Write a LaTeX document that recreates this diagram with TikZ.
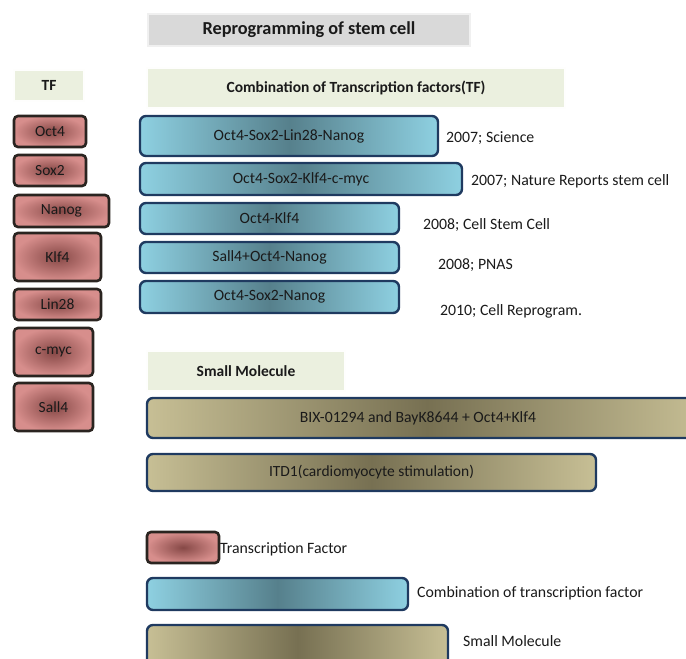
\documentclass[tikz,border=0pt]{standalone}
\usepackage{fontspec}
\setmainfont{Carlito}
\definecolor{txt}{HTML}{1A1A1A}
\definecolor{hdrgray}{HTML}{D9D9D9}
\definecolor{hdrgreen}{HTML}{EBF0DF}
\definecolor{redout}{HTML}{D78E8C}
\definecolor{redin}{HTML}{864846}
\definecolor{redline}{HTML}{2A2420}
\definecolor{blueout}{HTML}{8ED0E1}
\definecolor{bluein}{HTML}{56808C}
\definecolor{tanout}{HTML}{C7BF95}
\definecolor{tanin}{HTML}{777052}
\definecolor{navy}{HTML}{1F3A60}
\tikzset{
  hdr/.style={fill=hdrgreen, draw=white!95!hdrgreen, line width=1.5pt, inner sep=0pt, font=\fontsize{15.5}{17}\selectfont\bfseries, text=txt},
  redbox/.style={draw=redline, line width=2.6pt, rounded corners=4pt, inner color=redin, outer color=redout, inner sep=0pt, font=\fontsize{15.5}{17}\selectfont, text=txt},
  bluebar/.style={draw=navy, line width=2.4pt, rounded corners=6pt, left color=blueout, right color=blueout, middle color=bluein, inner sep=0pt, font=\fontsize{15.7}{17}\selectfont, text=txt},
  tanbar/.style={draw=navy, line width=2.4pt, rounded corners=6pt, left color=tanout, right color=tanout, middle color=tanin, inner sep=0pt, font=\fontsize{15.5}{17}\selectfont, text=txt},
  reflabel/.style={anchor=west, inner sep=0pt, font=\fontsize{15.8}{17}\selectfont, text=txt},
}
\begin{document}
\begin{tikzpicture}[x=1pt,y=-1pt]
\useasboundingbox (0,0) rectangle (686,659);
\clip (0,0) rectangle (686,659);
% headers
\node[hdr, fill=hdrgray, draw=white!94!black, minimum width=322pt, minimum height=32pt, font=\fontsize{18.3}{20}\selectfont\bfseries] (title) at (309,30) {Reprogramming of stem cell};
\node[hdr, minimum width=70pt, minimum height=31pt] (tfh) at (49,85.5) {TF};
\node[hdr, minimum width=418pt, minimum height=40pt] (combh) at (356,88) {Combination of Transcription factors(TF)};
\node[hdr, minimum width=198pt, minimum height=40pt] (smh) at (246,371) {Small Molecule};
% TF boxes
\node[redbox, minimum width=72pt, minimum height=31pt] (oct4) at (50,131.5) {Oct4};
\node[redbox, minimum width=72pt, minimum height=31pt] (sox2) at (50,170.5) {Sox2};
\node[redbox, minimum width=95pt, minimum height=32pt] (nanog) at (61.5,211) {Nanog};
\node[redbox, minimum width=87pt, minimum height=48pt] (klf4) at (57.5,257) {Klf4};
\node[redbox, minimum width=87pt, minimum height=31pt] (lin28) at (57.5,304.5) {Lin28};
\node[redbox, minimum width=79pt, minimum height=48pt] (cmyc) at (53.5,352) {c-myc};
\node[redbox, minimum width=79pt, minimum height=48pt] (sall4) at (53.5,407) {Sall4};
% combination bars
\node[bluebar, minimum width=298pt, minimum height=40pt] (c1) at (289,136) {Oct4-Sox2-Lin28-Nanog};
\node[bluebar, minimum width=322pt, minimum height=32pt] (c2) at (301,179) {Oct4-Sox2-Klf4-c-myc};
\node[bluebar, minimum width=259pt, minimum height=31pt] (c3) at (269.5,218.5) {Oct4-Klf4};
\node[bluebar, minimum width=259pt, minimum height=31pt] (c4) at (269.5,257.5) {Sall4+Oct4-Nanog};
\node[bluebar, minimum width=259pt, minimum height=32pt] (c5) at (269.5,297) {Oct4-Sox2-Nanog};
\node[reflabel] (r1) at (446,138) {2007; Science};
\node[reflabel] (r2) at (471,181) {2007; Nature Reports stem cell};
\node[reflabel] (r3) at (423,225) {2008; Cell Stem Cell};
\node[reflabel] (r4) at (438,265) {2008; PNAS};
\node[reflabel] (r5) at (440,311) {2010; Cell Reprogram.};
% small molecule bars
\node[tanbar, minimum width=560pt, minimum height=40pt] (s1) at (427,418) {};
\node[text=txt, font=\fontsize{15.7}{17}\selectfont, inner sep=0pt] (s1t) at (418,418) {BIX-01294 and BayK8644 + Oct4+Klf4};
\node[tanbar, minimum width=449pt, minimum height=37pt] (s2) at (371.5,472.5) {ITD1(cardiomyocyte stimulation)};
% legend
\node[redbox, minimum width=72pt, minimum height=31pt] (lg1) at (183,547.5) {};
\node[reflabel] (lg1t) at (220,549) {Transcription Factor};
\node[bluebar, minimum width=261pt, minimum height=32pt] (lg2) at (277.5,594) {};
\node[reflabel] (lg2t) at (417,593) {Combination of transcription factor};
\node[tanbar, minimum width=301pt, minimum height=44pt] (lg3) at (297.5,647) {};
\node[reflabel] (lg3t) at (463,641) {Small Molecule};
\end{tikzpicture}
\end{document}
